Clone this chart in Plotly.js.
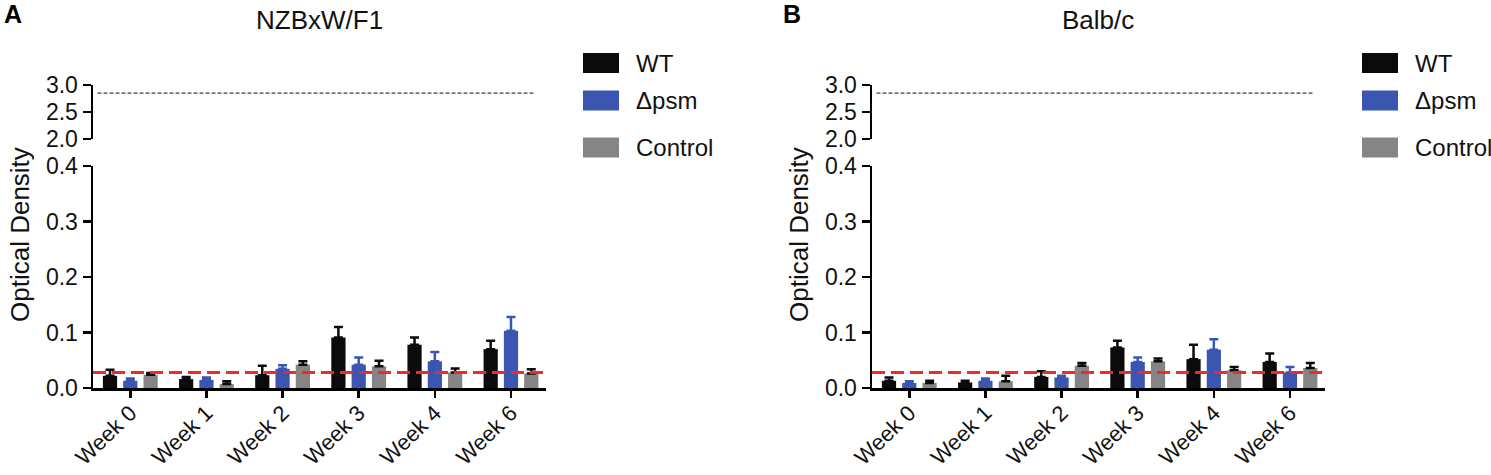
<!DOCTYPE html>
<html>
<head>
<meta charset="utf-8">
<script src="https://cdn.plot.ly/plotly-3.0.1.min.js"></script>
<style>
  html, body { margin: 0; padding: 0; background: #fff; }
  #chart { width: 1491px; height: 475px; }
</style>
</head>
<body>
<div id="chart"></div>
<script>
const weeks = ['Week 0', 'Week 1', 'Week 2', 'Week 3', 'Week 4', 'Week 6'];
const groups = ['WT', '\u0394psm', 'Control'];
const groupColors = ['#0b0b0b', '#3b56b0', '#858585'];
const errColors = ['#0b0b0b', '#3b56b0', '#0b0b0b'];

// NZBxW/F1
const nzbWT = [0.022, 0.016, 0.023, 0.091, 0.078, 0.070];
const nzbWTErr = [0.011, 0.004, 0.017, 0.019, 0.013, 0.015];
const nzbPsm = [0.013, 0.0145, 0.0345, 0.042, 0.048, 0.103];
const nzbPsmErr = [0.004, 0.0045, 0.0065, 0.013, 0.017, 0.025];
const nzbCtrl = [0.024, 0.007, 0.042, 0.039, 0.028, 0.026];
const nzbCtrlErr = [0.003, 0.005, 0.006, 0.010, 0.007, 0.008];

// Balb/c
const balbWT = [0.013, 0.010, 0.020, 0.073, 0.052, 0.047];
const balbWTErr = [0.006, 0.003, 0.010, 0.012, 0.026, 0.015];
const balbPsm = [0.009, 0.013, 0.019, 0.047, 0.069, 0.028];
const balbPsmErr = [0.003, 0.004, 0.003, 0.008, 0.019, 0.010];
const balbCtrl = [0.009, 0.012, 0.040, 0.048, 0.032, 0.036];
const balbCtrlErr = [0.004, 0.010, 0.005, 0.005, 0.006, 0.009];

const cutoff = 0.028;     // red dashed line
const upperLine = 2.85;   // black dashed line in the break section

const font = 'Liberation Sans, Arial, Helvetica, sans-serif';
const W = 1491, H = 475;
const px = v => v / W;
const py = v => 1 - v / H;

function barTraces(series, errs, xa, ya) {
  return series.map((vals, i) => ({
    type: 'bar',
    x: weeks,
    y: vals,
    name: groups[i],
    xaxis: xa,
    yaxis: ya,
    marker: { color: groupColors[i], line: { width: 0 } },
    error_y: {
      type: 'data', array: errs[i], arrayminus: errs[i].map(() => 0), symmetric: false,
      color: errColors[i], thickness: 2.5, width: 4.5
    },
    showlegend: false,
    hoverinfo: 'x+y+name'
  }));
}

const data = [
  ...barTraces([nzbWT, nzbPsm, nzbCtrl], [nzbWTErr, nzbPsmErr, nzbCtrlErr], 'x', 'y'),
  ...barTraces([balbWT, balbPsm, balbCtrl], [balbWTErr, balbPsmErr, balbCtrlErr], 'x2', 'y3'),
  { x: [], y: [], xaxis: 'x', yaxis: 'y2', showlegend: false },
  { x: [], y: [], xaxis: 'x2', yaxis: 'y4', showlegend: false }
];

const axisCommon = {
  showline: true, linecolor: '#000', linewidth: 2.5,
  ticks: 'outside', ticklen: 8, tickwidth: 2.5, tickcolor: '#000',
  showgrid: false, zeroline: false,
  tickfont: { family: font, size: 23, color: '#111' },
  fixedrange: true
};

function xAxis(domain, anchor) {
  return Object.assign({}, axisCommon, {
    domain, anchor, type: 'category', categoryorder: 'array', categoryarray: weeks,
    range: [-0.49, 5.46], tickangle: -44, ticklen: 7, ticklabelstandoff: -6,
    tickfont: { family: font, size: 22, color: '#111' }
  });
}
function lowerY(anchor) {
  return Object.assign({}, axisCommon, {
    domain: [py(388), py(166)], anchor, range: [0, 0.4], dtick: 0.1, tick0: 0, tickformat: '.1f'
  });
}
function upperY(anchor) {
  return Object.assign({}, axisCommon, {
    domain: [py(139), py(85)], anchor, range: [2, 3],
    tickvals: [2, 2.5, 3], tickformat: '.1f'
  });
}

const offsetB = 779;
const shapes = [];
const annotations = [];

[{ xa: 'x', ya: 'y', yu: 'y2', dx: 0, title: 'NZBxW/F1', tag: 'A' },
 { xa: 'x2', ya: 'y3', yu: 'y4', dx: offsetB, title: 'Balb/c', tag: 'B' }].forEach(p => {
  shapes.push({
    type: 'line', xref: p.xa + ' domain', yref: p.ya, x0: 0, x1: 1, y0: cutoff, y1: cutoff,
    line: { color: '#ee2b2b', width: 3, dash: '13px,6px' }
  });
  shapes.push({
    type: 'line', xref: p.xa + ' domain', yref: p.yu, x0: 0.01, x1: 0.976, y0: upperLine, y1: upperLine,
    line: { color: '#111', width: 1, dash: '4px,2px' }
  });
  annotations.push({
    text: p.title, xref: 'paper', yref: 'paper', x: px(319 + p.dx), y: py(20),
    showarrow: false, xanchor: 'center', yanchor: 'middle',
    font: { family: font, size: 26, color: '#111' }
  });
  annotations.push({
    text: '<b>' + p.tag + '</b>', xref: 'paper', yref: 'paper', x: px(2 + p.dx), y: py(14),
    showarrow: false, xanchor: 'left', yanchor: 'middle',
    font: { family: font, size: 25, color: '#000' }
  });
  annotations.push({
    text: 'Optical Density', xref: 'paper', yref: 'paper', x: px(20 + p.dx), y: py(235),
    showarrow: false, xanchor: 'center', yanchor: 'middle', textangle: -90,
    font: { family: font, size: 26, color: '#111' }
  });
  // legend swatches
  const legendY = [63, 100.5, 147.5];
  groups.forEach((g, i) => {
    shapes.push({
      type: 'rect', xref: 'paper', yref: 'paper',
      x0: px(583 + p.dx), x1: px(619 + p.dx), y0: py(legendY[i] + 10), y1: py(legendY[i] - 10),
      fillcolor: groupColors[i], line: { width: 0 }
    });
    annotations.push({
      text: g, xref: 'paper', yref: 'paper', x: px(634 + p.dx), y: py(legendY[i]),
      showarrow: false, xanchor: 'left', yanchor: 'middle',
      font: { family: font, size: 24, color: '#111' }
    });
  });
});

const layout = {
  width: W, height: H,
  margin: { l: 0, r: 0, t: 0, b: 0 },
  paper_bgcolor: '#fff', plot_bgcolor: 'rgba(0,0,0,0)',
  barmode: 'group', bargap: 0.2, bargroupgap: 0.3,
  showlegend: false,
  xaxis: xAxis([px(93), px(546)], 'y'),
  yaxis: lowerY('x'),
  yaxis2: upperY('x'),
  xaxis2: xAxis([px(93 + offsetB), px(546 + offsetB)], 'y3'),
  yaxis3: lowerY('x2'),
  yaxis4: upperY('x2'),
  shapes, annotations
};

Plotly.newPlot('chart', data, layout, { displayModeBar: false, staticPlot: true });
</script>
</body>
</html>
